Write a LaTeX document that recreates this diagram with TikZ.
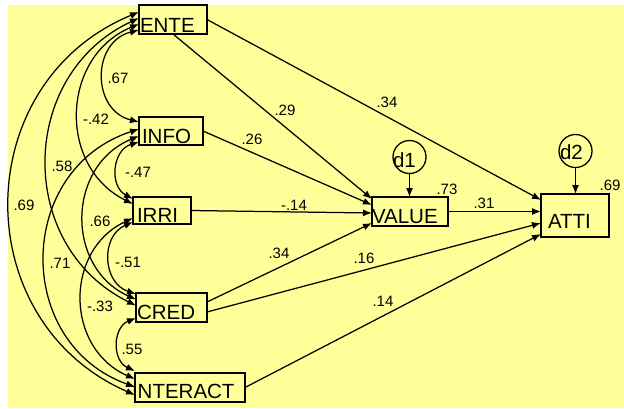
\documentclass[tikz,border=0pt]{standalone}
\usepackage{fontspec}
\setmainfont{Liberation Sans}
\usetikzlibrary{arrows.meta}
\definecolor{bgyellow}{RGB}{255,255,153}
\begin{document}
\begin{tikzpicture}[x=1pt,y=-1pt,
  box/.style={draw, line width=1.5pt, inner sep=0pt, outer sep=0pt, fill=bgyellow},
  err/.style={draw, circle, line width=1.3pt, inner sep=0pt, outer sep=0pt, minimum size=33pt},
  txt/.style={inner sep=0pt, outer sep=0pt, font=\fontsize{20.5}{24}\selectfont, anchor=base west},
  coef/.style={inner sep=0pt, outer sep=0pt, font=\fontsize{15}{18}\selectfont},
  reg/.style={line width=1.25pt, -{Latex[length=9pt,width=7pt]}},
  cov/.style={line width=1.25pt, {Latex[length=9pt,width=7pt]}-{Latex[length=9pt,width=7pt]}}
]
\useasboundingbox (0,0) rectangle (624,408);
\fill[bgyellow] (8,5) rectangle (624,408);

% boxes
\node[box, minimum width=68pt, minimum height=29pt] (ENTE) at (173,19.5) {};
\node[box, minimum width=64pt, minimum height=28pt] (INFO) at (171,131) {};
\node[box, minimum width=58pt, minimum height=27pt] (IRRI) at (162,210.5) {};
\node[box, minimum width=71pt, minimum height=29pt] (CRED) at (171.5,307.5) {};
\node[box, minimum width=110pt, minimum height=29pt] (INTERACT) at (190,387.5) {};
\node[box, minimum width=76pt, minimum height=29pt] (VALUE) at (410,211.5) {};
\node[box, minimum width=68pt, minimum height=43pt] (ATTI) at (575,215.5) {};
\node[err] (d1) at (409.5,157) {};
\node[err] (d2) at (575.5,151) {};

% box texts
\node[txt] (tENTE) at (140,32) {ENTE};
\node[txt] (tINFO) at (142,143) {INFO};
\node[txt] (tIRRI) at (137,222) {IRRI};
\node[txt] (tCRED) at (137,319) {CRED};
\node[txt] (tINTERACT) at (132,398) {INTERACT};
\node[txt] (tVALUE) at (372,223) {VALUE};
\node[txt] (tATTI) at (548,228) {ATTI};
\node[txt] (td1) at (393,167) {d1};
\node[txt] (td2) at (560,159) {d2};

% regression paths
\draw[reg] (ENTE.south) -- ([yshift=12.5pt]VALUE.west);
\draw[reg] (ENTE.east) -- ([yshift=15.5pt]ATTI.west);
\draw[reg] (INFO.east) -- ([yshift=6.5pt]VALUE.west);
\draw[reg] (IRRI.east) -- ([yshift=-1.5pt]VALUE.west);
\draw[reg] ([yshift=5.5pt]CRED.east) -- ([yshift=-11.5pt]VALUE.west);
\draw[reg] ([yshift=-4.5pt]CRED.east) -- ([yshift=-7.5pt]ATTI.west);
\draw[reg] (INTERACT.east) -- ([yshift=-18.5pt]ATTI.west);
\draw[reg] (VALUE.east) -- (VALUE.east -| ATTI.west);
\draw[reg] (d1.south) -- (d1.south |- VALUE.north);
\draw[reg] (d2.south) -- (d2.south |- ATTI.north);

% covariances
\draw[cov] ([yshift=-10.5pt]ENTE.west) to[bend right=76, looseness=1.37] ([yshift=9pt]INFO.west);
\draw[cov] ([yshift=7.5pt]ENTE.west) to[bend right=67, looseness=1.23] ([yshift=-7.5pt]INTERACT.west);
\draw[cov] ([yshift=1.5pt]ENTE.west) to[bend right=64.5, looseness=1.19] ([yshift=2pt]CRED.west);
\draw[cov] ([yshift=-4.5pt]ENTE.west) to[bend right=65.6, looseness=1.2] ([yshift=6.5pt]IRRI.west);
\draw[cov] ([yshift=-11pt]INFO.west) to[bend right=67.4, looseness=1.23] ([yshift=11.5pt]IRRI.west);
\draw[cov] ([yshift=-5pt]INFO.west) to[bend right=66.6, looseness=1.22] ([yshift=8pt]CRED.west);
\draw[cov] ([yshift=2pt]INFO.west) to[bend right=71, looseness=1.285] ([yshift=0.5pt]INTERACT.west);
\draw[cov] ([yshift=-11.5pt]IRRI.west) to[bend right=69.2, looseness=1.26] ([yshift=13.5pt]CRED.west);
\draw[cov] ([yshift=-7.5pt]IRRI.west) to[bend right=65.7, looseness=1.21] ([yshift=8.5pt]INTERACT.west);
\draw[cov] ([yshift=-10.5pt]CRED.west) to[bend right=66.8, looseness=1.22] ([yshift=16.5pt]INTERACT.west);

% coefficients
\node[coef] (c1) at (118,78) {.67};
\node[coef] (c2) at (96,119) {-.42};
\node[coef] (c3) at (62,166) {.58};
\node[coef] (c4) at (24,205) {.69};
\node[coef] (c5) at (138,172) {-.47};
\node[coef] (c6) at (100,221) {.66};
\node[coef] (c7) at (60,263) {.71};
\node[coef] (c8) at (128,262) {-.51};
\node[coef] (c9) at (100,306) {-.33};
\node[coef] (c10) at (132,349) {.55};
\node[coef] (c11) at (285,110) {.29};
\node[coef] (c12) at (387,102) {.34};
\node[coef] (c13) at (252,139) {.26};
\node[coef] (c14) at (294,205) {-.14};
\node[coef] (c15) at (279,253) {.34};
\node[coef] (c16) at (364,258) {.16};
\node[coef] (c17) at (383,301) {.14};
\node[coef] (c18) at (447,189) {.73};
\node[coef] (c19) at (484,203) {.31};
\node[coef] (c20) at (610,185) {.69};
\end{tikzpicture}
\end{document}
